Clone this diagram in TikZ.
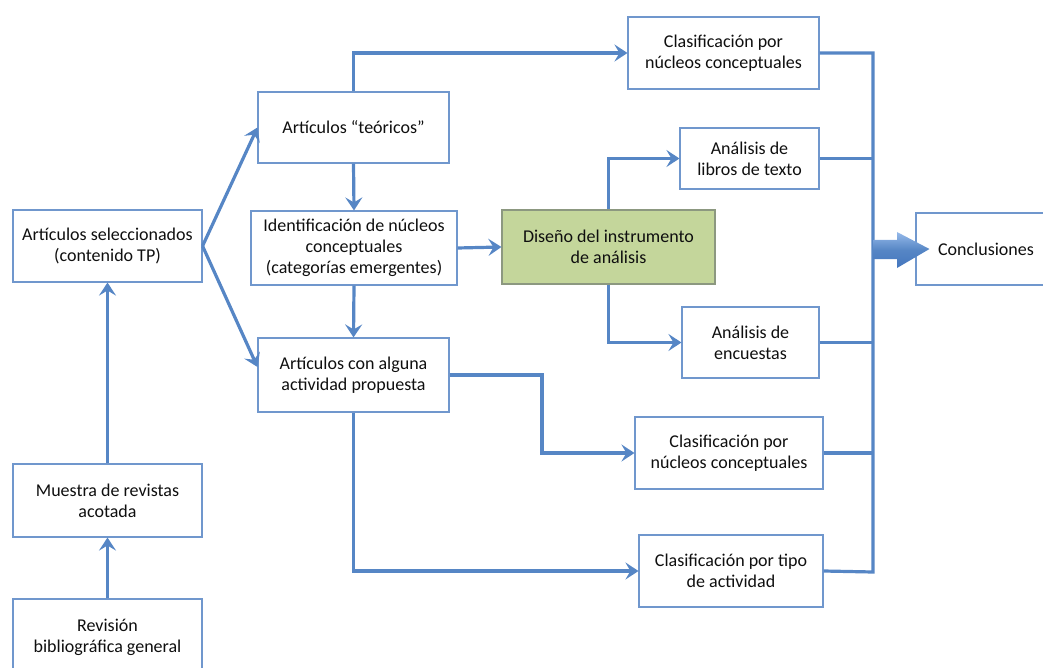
\documentclass[tikz,border=0pt]{standalone}
\usepackage{fontspec}
\setmainfont{Carlito}
\usetikzlibrary{arrows.meta,shadows,calc}
\definecolor{linkblue}{RGB}{86,134,197}
\definecolor{edgeblue}{RGB}{112,151,205}
\definecolor{designgreen}{RGB}{196,214,155}
\definecolor{designedge}{RGB}{140,152,128}
\definecolor{bigarrowtop}{RGB}{150,186,234}
\definecolor{bigarrowbot}{RGB}{68,118,190}
\definecolor{txt}{RGB}{15,15,15}
\begin{document}
\begin{tikzpicture}[x=1pt,y=-1pt,
  box/.style={draw=edgeblue,line width=1.1pt,fill=white,align=center,
    inner sep=0pt,text=txt,font=\fontsize{18}{21}\selectfont,
    drop shadow={opacity=0.18,shadow xshift=1.2pt,shadow yshift=-1.2pt}},
  greenbox/.style={box,draw=designedge,fill=designgreen},
  link/.style={draw=linkblue,line width=3.2pt},
  arr/.style={link,-{Stealth[length=13pt,width=17pt,inset=5pt]}},
  bus/.style={link}]
\useasboundingbox (0,0) rectangle (1043,668);
\begin{scope}
\clip (0,0) rectangle (1043,668);
% left column
\node[box,minimum width=189pt,minimum height=72pt] (sel) at (107.5,246) {Artículos seleccionados\\(contenido TP)};
\node[box,minimum width=189pt,minimum height=73pt] (mue) at (107.5,500.5) {Muestra de revistas\\acotada};
\node[box,minimum width=189pt,minimum height=77pt] (rev) at (107.5,637.5) {Revisión\\bibliográfica general};
% second column
\node[box,minimum width=191pt,minimum height=71pt] (teo) at (353.5,127.5) {Artículos “teóricos”};
\node[box,minimum width=206pt,minimum height=74pt] (ide) at (354,248) {Identificación de núcleos\\conceptuales\\(categorías emergentes)};
\node[box,minimum width=191pt,minimum height=74pt] (alg) at (353.5,375) {Artículos con alguna\\actividad propuesta};
% design of the instrument
\node[greenbox,minimum width=213pt,minimum height=74pt] (dis) at (608.5,247) {Diseño del instrumento\\de análisis};
% right column
\node[box,minimum width=191pt,minimum height=72pt] (cl1) at (723.5,53) {Clasificación por\\núcleos conceptuales};
\node[box,minimum width=139pt,minimum height=61pt] (lib) at (749.5,158.5) {Análisis de\\libros de texto};
\node[box,minimum width=137pt,minimum height=71pt] (enc) at (750.5,342.5) {Análisis de\\encuestas};
\node[box,minimum width=188pt,minimum height=72pt] (cl2) at (729,453) {Clasificación por\\núcleos conceptuales};
\node[box,minimum width=184pt,minimum height=72pt] (cl3) at (731,571) {Clasificación por tipo\\de actividad};
\node[box,minimum width=140pt,minimum height=72pt] (con) at (986,249) {Conclusiones};
% helper points
\coordinate (bend) at (542,375);
\coordinate (busA) at (873,53);
\coordinate (busB) at (873,572);
\coordinate (busM) at (873,249);
% connectors
\draw[arr] (rev.north) -- (mue.south);
\draw[arr] (mue.north) -- (sel.south);
\draw[arr] (sel.east) -- (teo.west);
\draw[arr] (sel.east) -- ($(alg.west)+(0,-8)$);
\draw[arr] (teo.south) -- (ide.north);
\draw[arr] (ide.south) -- (alg.north);
\draw[arr] (ide.east) -- (dis.west);
\draw[arr] (teo.north) |- (cl1.west);
\draw[arr] (dis.north) |- (lib.west);
\draw[arr] (dis.south) |- (enc.west);
\draw[arr] (alg.east) -- (bend) |- (cl2.west);
\draw[arr] (alg.south) |- (cl3.west);
% collecting bus on the right
\draw[bus] (cl1.east) -- (busA) -- (busB) -- (cl3.east);
\draw[bus] (lib.east) -- (lib.east -| busA);
\draw[bus] (enc.east) -- (enc.east -| busA);
\draw[bus] (cl2.east) -- (cl2.east -| busA);
% broad arrow into the conclusions
\shade[top color=bigarrowtop,bottom color=bigarrowbot,middle color=linkblue]
  ($(busM)+(0,-9)$) -- ($(busM)+(24,-9)$) -- ($(busM)+(24,-17)$) --
  ($(con.west)+(14,0)$) --
  ($(busM)+(24,19)$) -- ($(busM)+(24,10)$) -- ($(busM)+(0,10)$) -- cycle;
\end{scope}
\end{tikzpicture}
\end{document}
